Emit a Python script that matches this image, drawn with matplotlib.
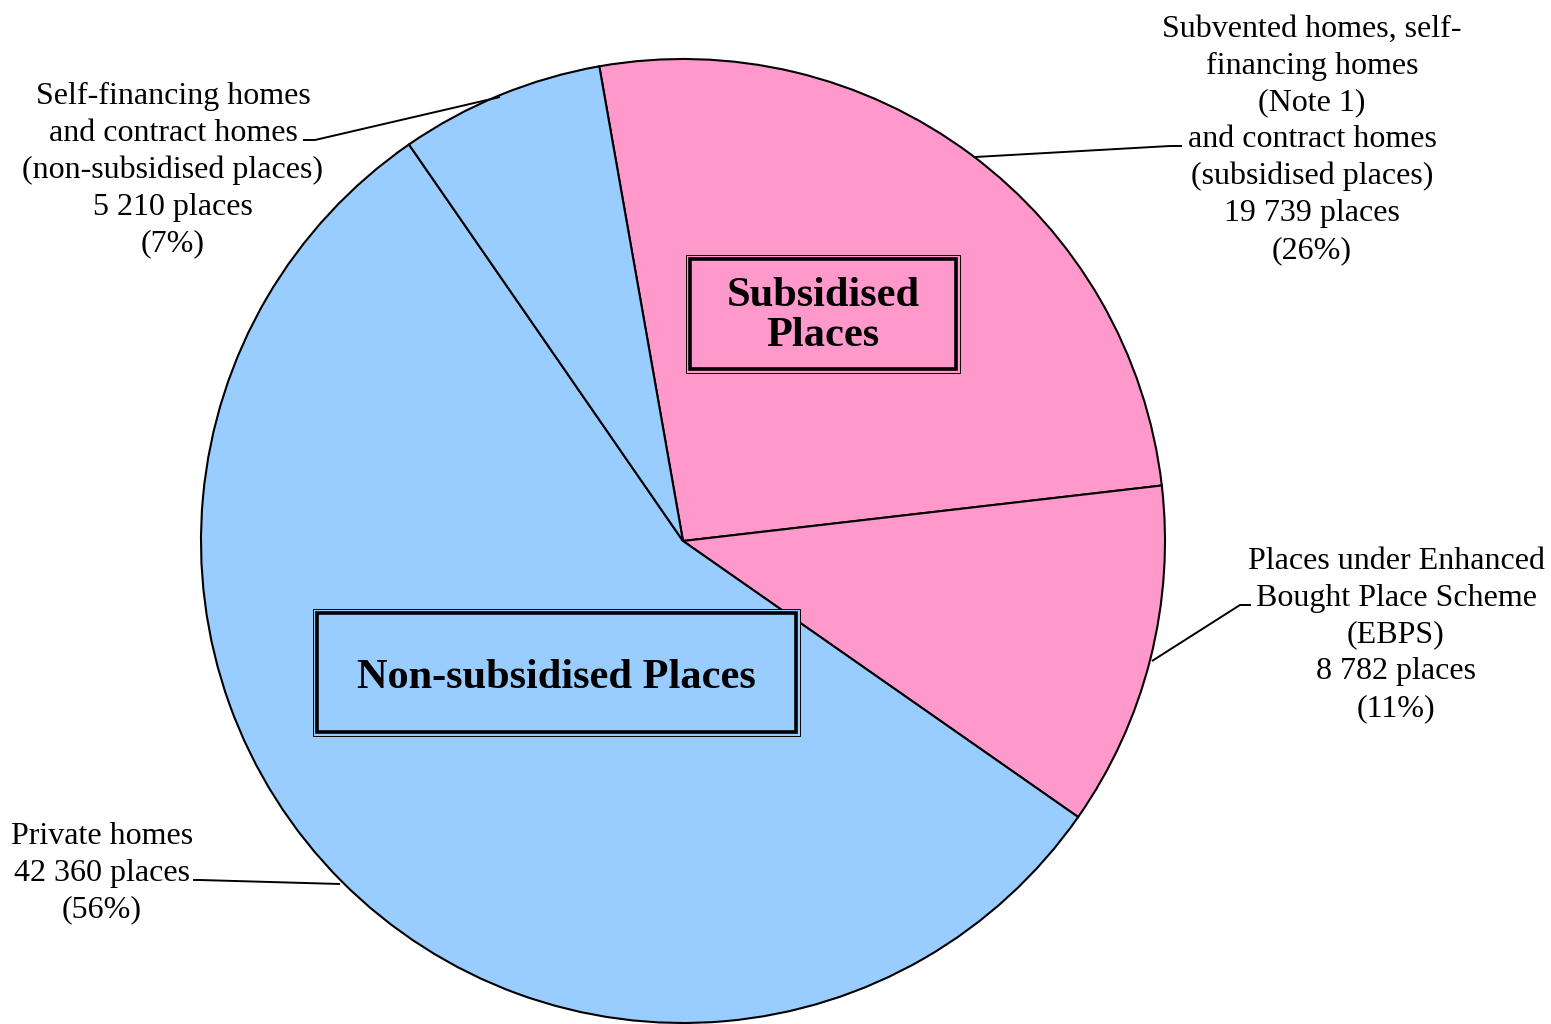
import matplotlib.pyplot as plt
from matplotlib.patches import Rectangle

# slices, clockwise from the top
names = ["Subvented homes, self-\nfinancing homes\n(Note 1)\nand contract homes\n(subsidised places)",
         "Places under Enhanced\nBought Place Scheme\n(EBPS)",
         "Private homes",
         "Self-financing homes\nand contract homes\n(non-subsidised places)"]
places = [19739, 8782, 42360, 5210]
percents = [26, 11, 56, 7]
colors = ["#FF99CC", "#FF99CC", "#99CCFF", "#99CCFF"]

W, H = 1551, 1024
cx, cy, R = 683, H - 541, 482

plt.rcParams['font.family'] = ['Liberation Serif', 'DejaVu Serif']

fig = plt.figure(figsize=(W / 100, H / 100), dpi=100)
ax = fig.add_axes([0, 0, 1, 1])

ax.pie(places, colors=colors, startangle=100, counterclock=False,
       center=(cx, cy), radius=R, frame=True,
       wedgeprops=dict(edgecolor="black", linewidth=1.5))
ax.set_xlim(0, W)
ax.set_ylim(0, H)
ax.set_aspect("equal")
ax.axis("off")

# label text centre (x, top y) and leader line points in pixel space
label_pos = [(1312, 15), (1396, 547), (102, 822), (173, 82)]
leaders = [[(975, 157), (1170, 146), (1182, 146)],
           [(1152, 661), (1240, 605), (1251, 605)],
           [(340, 884), (200, 880), (193, 880)],
           [(500, 97), (315, 140), (303, 140)]]

for name, n, p, (x, y), pts in zip(names, places, percents, label_pos, leaders):
    num = f"{n:,}".replace(",", " ")
    txt = f"{name}\n{num} places\n({p}%)"
    ax.text(x, H - y, txt, ha="center", va="top", fontsize=23,
            linespacing=1.35)
    ax.plot([q[0] for q in pts], [H - q[1] for q in pts], color="black",
            lw=1.4, solid_capstyle="butt")


def double_box(x0, y0, x1, y1, face):
    ax.add_patch(Rectangle((x0, H - y1), x1 - x0, y1 - y0, facecolor=face,
                           edgecolor="black", lw=0.7, zorder=3))
    ax.add_patch(Rectangle((x0 + 4, H - y1 + 4), x1 - x0 - 8, y1 - y0 - 8,
                           facecolor="none", edgecolor="black", lw=2.6, zorder=4))


double_box(686, 255, 960, 373, "#FF99CC")
ax.text(823, H - 316, "Subsidised\nPlaces", ha="center", va="center",
        fontsize=30.5, fontweight="bold", linespacing=1.1, zorder=5)

double_box(313, 609, 800, 736, "#99CCFF")
ax.text(556, H - 678, "Non-subsidised Places", ha="center", va="center",
        fontsize=30.5, fontweight="bold", zorder=5)

fig.savefig("out.png", dpi=100)
